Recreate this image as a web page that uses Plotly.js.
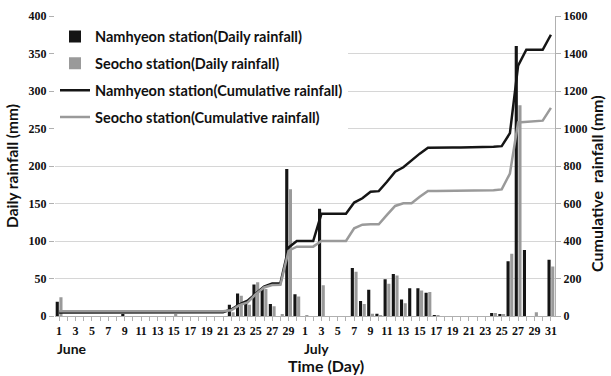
<!DOCTYPE html>
<html>
<head>
<meta charset="utf-8">
<script src="https://cdn.plot.ly/plotly-3.0.1.min.js"></script>
<style>html,body{margin:0;padding:0;background:#fff;}#chart{width:611px;height:376px;}</style>
</head>
<body>
<div id="chart"></div>
<script>
// Days: June 1-30, July 1-31 (index 0..60)
const juneDays = [1,2,3,4,5,6,7,8,9,10,11,12,13,14,15,16,17,18,19,20,21,22,23,24,25,26,27,28,29,30];
const julyDays = [1,2,3,4,5,6,7,8,9,10,11,12,13,14,15,16,17,18,19,20,21,22,23,24,25,26,27,28,29,30,31];

// Daily rainfall (mm)
const namhyeonDaily = [
  19,0,0,0,0,0,0,0,1.5,0, 0,0,0,0,0,0,0,0,0,0, 0,15,30,19,42,37,16,0,196,29,
  0,0,143,0,0,0,64,20,35,3, 49,56,22,37,37,31,1,0,0,0, 0,0,0,4,2,73,360,88,0,0, 75
];
const seochoDaily = [
  25,0,0,0,0,0,0,0,0,0, 0,0,0,0,1.5,0,0,0,0,0, 0,5,27,15,45,36,13,2,169,26,
  1,0,41,0,0,0,59,16,3,1, 43,54,17,0,34,32,1,0,0,0, 0,0,0,4,2,83,281,0,5,0, 66
];
// Cumulative rainfall (mm)
const namhyeonCum = [
  19,19,19,19,19,19,19,19,20.5,20.5, 20.5,20.5,20.5,20.5,20.5,20.5,20.5,20.5,20.5,20.5, 20.5,35,62,82,122,157,173,174,365,400,
  400,400,545,545,545,546,605,628,663,666, 716,770,793,830,866,897,899,899,899,899, 899,899,900,903,906,975,1335,1420,1420,1420, 1500
];
const seochoCum = [
  25,25,25,25,25,25,25,25,25,25, 25,25,25,25,26,26,26,26,26,26, 26,31,58,73,117,152,165,167,348,370,
  370,370,400,400,400,400,468,487,489,489, 539,587,601,601,636,667,667,667,667,667, 667,667,667,671,675,760,1032,1035,1040,1042, 1110
];

const seriesNames = [
  'Namhyeon station(Daily rainfall)',
  'Seocho station(Daily rainfall)',
  'Namhyeon station(Cumulative rainfall)',
  'Seocho station(Cumulative rainfall)'
];

const dayLabels = juneDays.map(String).concat(julyDays.map(String));
const xIdx = dayLabels.map((d, i) => i);
const tickText = dayLabels.map((d, i) => (i % 2 === 0 ? d : ''));

const black = '#151515';
const gray = '#9a9a9a';
const serif = 'Liberation Serif, Times New Roman, serif';
const sans = 'Lato, Open Sans, sans-serif';

const traces = [
  {type:'bar', x:xIdx, y:namhyeonDaily, name:seriesNames[0], marker:{color:black}, yaxis:'y', legendgroup:'a'},
  {type:'bar', x:xIdx, y:seochoDaily, name:seriesNames[1], marker:{color:gray}, yaxis:'y', legendgroup:'b'},
  {type:'scatter', mode:'lines', x:xIdx, y:namhyeonCum, name:seriesNames[2], line:{color:black, width:2.5}, yaxis:'y2', legendgroup:'c'},
  {type:'scatter', mode:'lines', x:xIdx, y:seochoCum, name:seriesNames[3], line:{color:gray, width:2.5}, yaxis:'y2', legendgroup:'d'}
];

const layout = {
  width:611, height:376,
  margin:{l:55, r:56, t:16, b:60},
  paper_bgcolor:'#fff', plot_bgcolor:'#fff',
  barmode:'group', bargap:0.1, bargroupgap:0.15,
  showlegend:true,
  legend:{x:0, y:0.985, xanchor:'left', yanchor:'top', bgcolor:'#fff',
          font:{family:sans, size:14.5, color:'#111', weight:'bold'},
          traceorder:'grouped', tracegroupgap:5, itemwidth:30},
  xaxis:{range:[-0.5, 60.5], tickmode:'array', tickvals:xIdx, ticktext:tickText,
         ticks:'outside', ticklen:4, tickcolor:'#b0b0b0', showline:true, linecolor:'#b0b0b0', linewidth:1,
         showgrid:false, zeroline:false,
         tickfont:{family:serif, size:12, color:'#111', weight:'bold'}},
  yaxis:{range:[0,400], tickvals:[0,50,100,150,200,250,300,350,400], ticks:'outside', ticklen:5, tickcolor:'#b0b0b0',
         showgrid:true, gridcolor:'#d6d6d6', gridwidth:1, zeroline:false, showline:false,
         tickfont:{family:serif, size:12, color:'#111', weight:'bold'},
         title:{text:'Daily rainfall (mm)', standoff:6, font:{family:sans, size:15.5, color:'#111', weight:'bold'}}},
  yaxis2:{range:[0,1600], tickvals:[0,200,400,600,800,1000,1200,1400,1600], overlaying:'y', side:'right',
          ticks:'outside', ticklen:5, tickcolor:'#b0b0b0', showline:true, linecolor:'#b0b0b0', linewidth:1,
          showgrid:false, zeroline:false,
          tickfont:{family:serif, size:12, color:'#111', weight:'bold'}},
  annotations:[
    {xref:'x', yref:'paper', x:-0.45, y:-0.108, xanchor:'left', yanchor:'middle', showarrow:false, text:'June',
     font:{family:sans, size:14, color:'#111', weight:'bold'}},
    {xref:'x', yref:'paper', x:29.6, y:-0.108, xanchor:'left', yanchor:'middle', showarrow:false, text:'July',
     font:{family:sans, size:14, color:'#111', weight:'bold'}},
    {xref:'paper', yref:'paper', x:0.542, y:-0.165, xanchor:'center', yanchor:'middle', showarrow:false, text:'Time (Day)',
     font:{family:sans, size:16, color:'#111', weight:'bold'}},
    {xref:'paper', yref:'paper', x:1.082, y:0.44, xanchor:'center', yanchor:'middle', textangle:-90, showarrow:false,
     text:'Cumulative  rainfall (mm)', font:{family:sans, size:16, color:'#111', weight:'bold'}}
  ]
};

Plotly.newPlot('chart', traces, layout, {displayModeBar:false, responsive:false});
</script>
</body>
</html>
